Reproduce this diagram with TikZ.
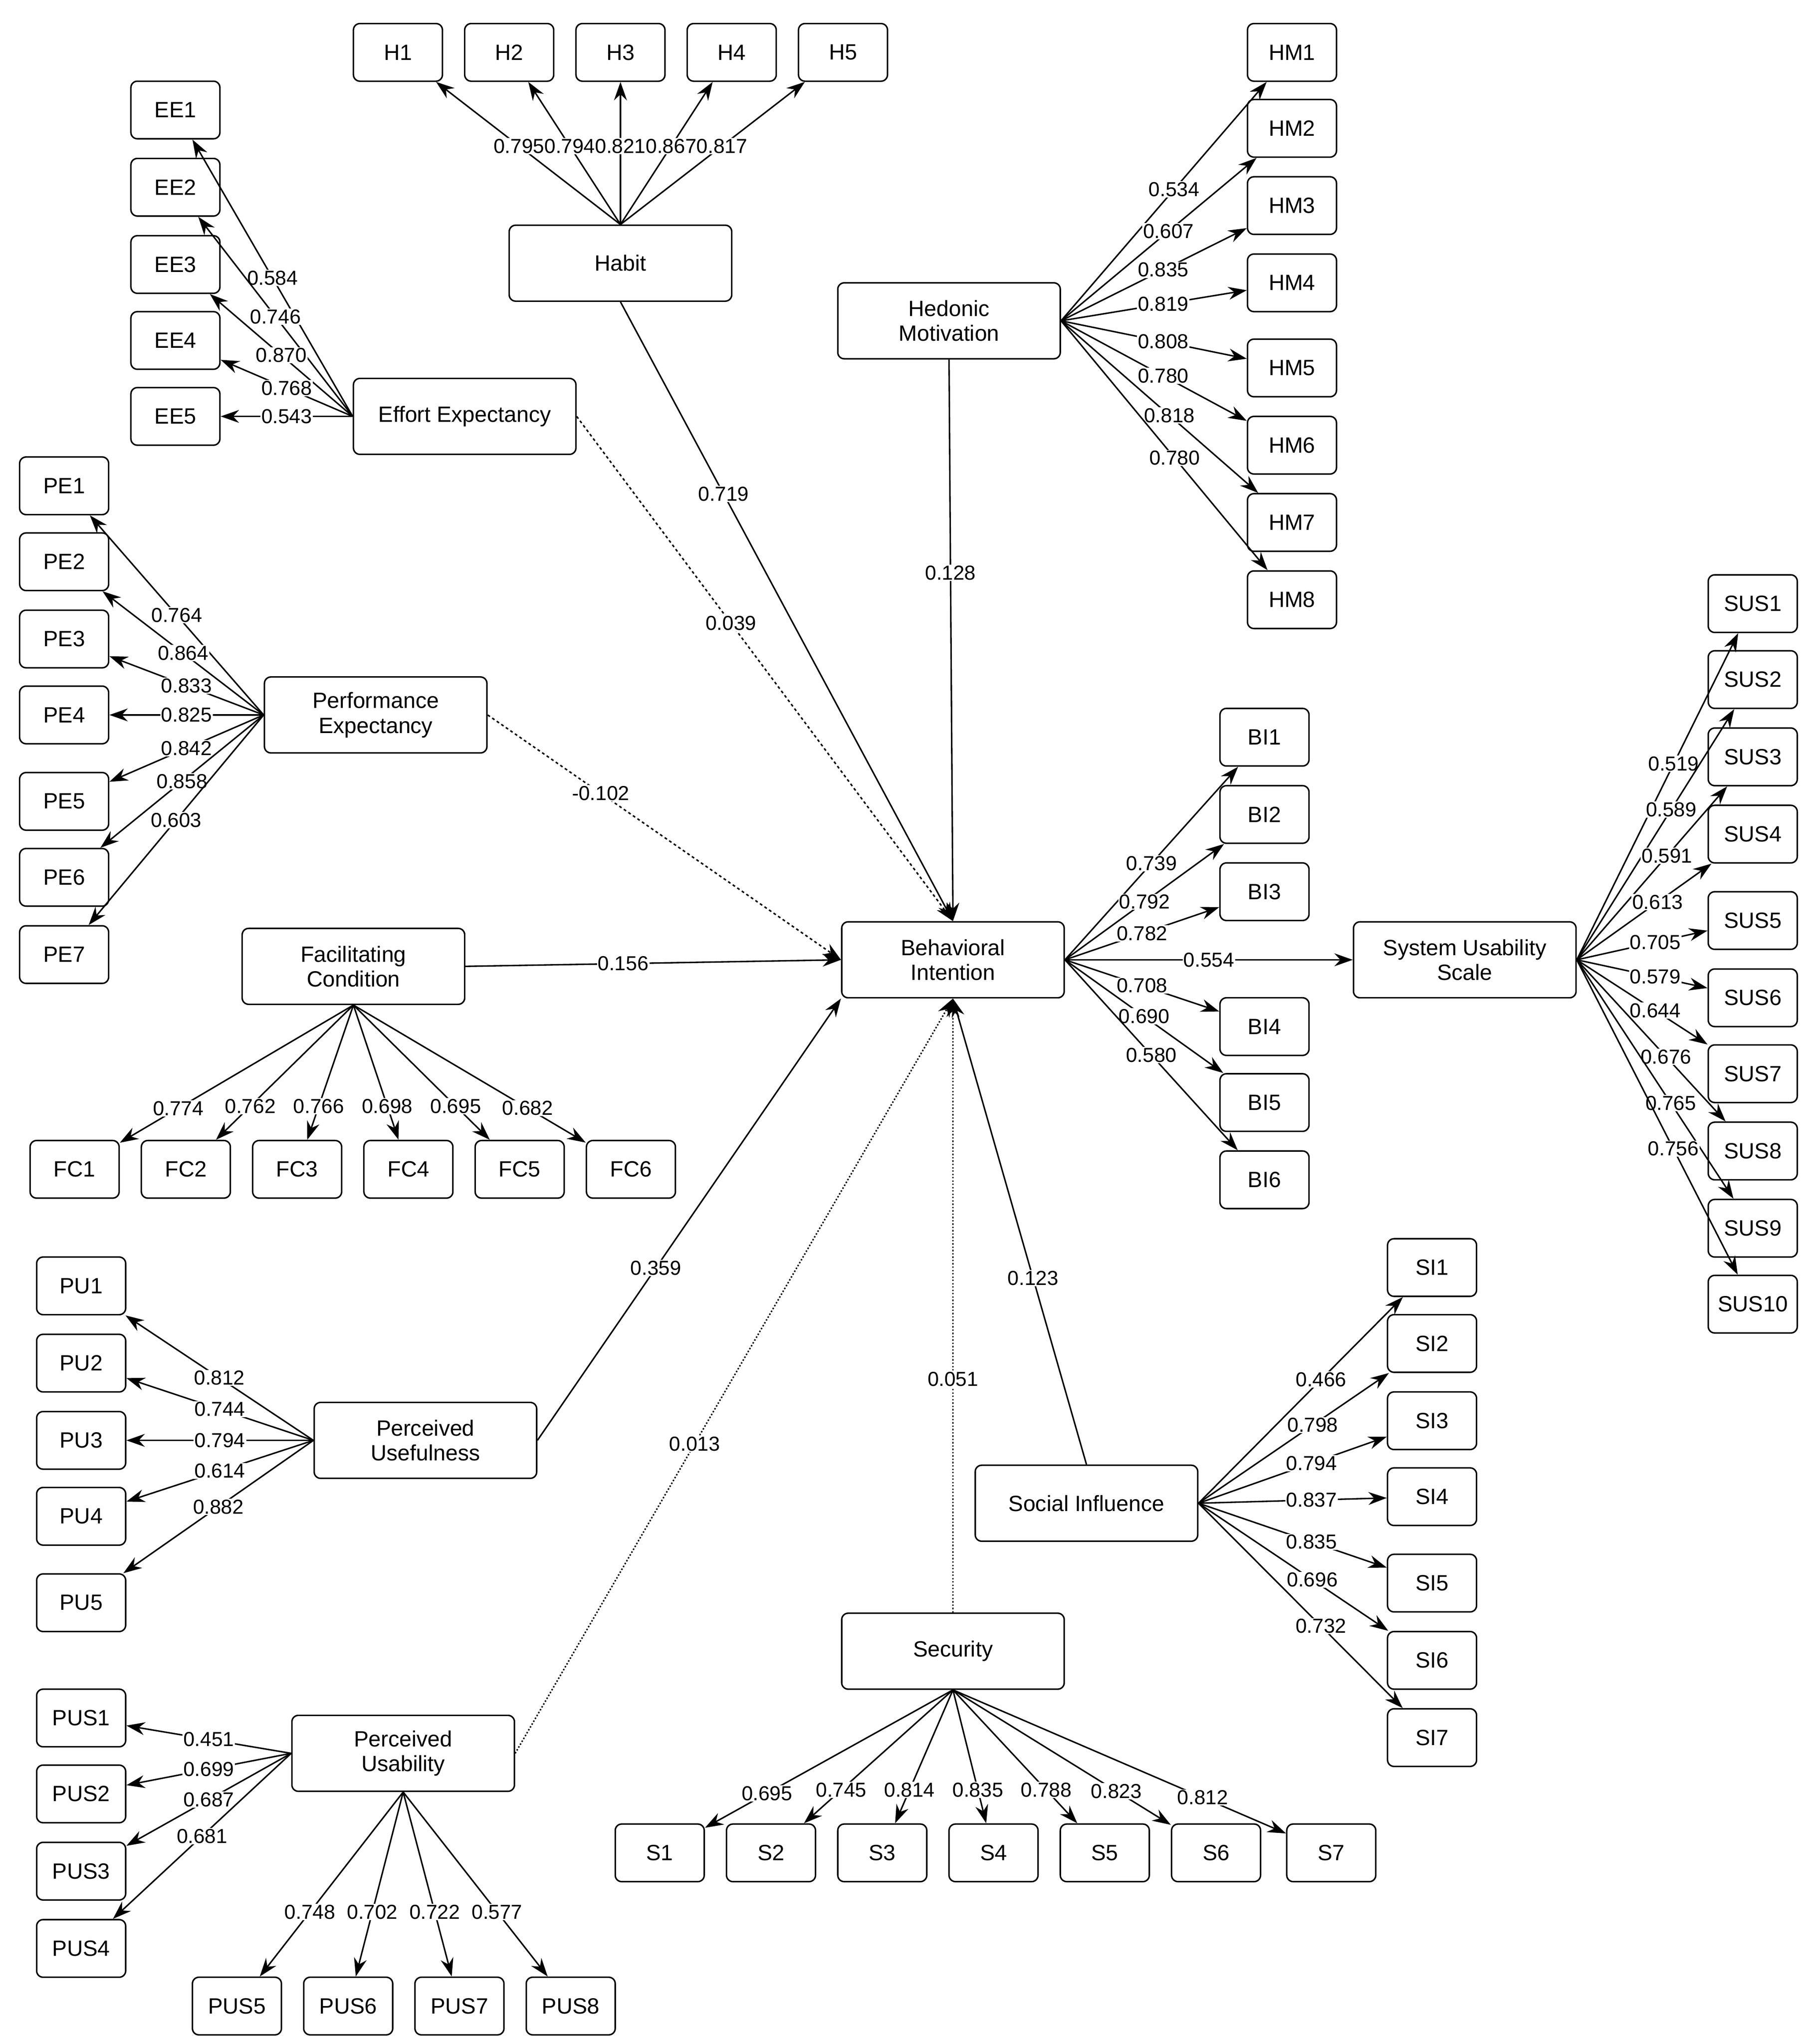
\documentclass[tikz,border=0pt]{standalone}
\usepackage{fontspec}
\setmainfont{Liberation Sans}
\usetikzlibrary{arrows.meta}
\begin{document}
\begin{tikzpicture}[x=0.05cm,y=-0.05cm,
 box/.style={draw,line width=1.6pt,rounded corners=7pt,minimum width=3.4cm,minimum height=2.2cm,font=\fontsize{24}{26}\selectfont,inner sep=2pt},
 con/.style={draw,line width=1.6pt,rounded corners=7pt,minimum width=8.5cm,minimum height=2.9cm,align=center,font=\fontsize{24}{27}\selectfont},
 ind/.style={line width=1.6pt,-{Stealth[length=20pt,width=14pt]}},
 lab/.style={fill=white,inner sep=1pt,font=\fontsize{22}{24}\selectfont}]
\useasboundingbox (0,0) rectangle (1384,1561);
% constructs
\node[con] (Habit) at (474,201) {Habit};
\node[con] (EE) at (355,318) {Effort Expectancy};
\node[con] (PE) at (287,546) {Performance\\Expectancy};
\node[con] (FC) at (270,738) {Facilitating\\Condition};
\node[con] (PU) at (325,1100) {Perceived\\Usefulness};
\node[con] (PUS) at (308,1339) {Perceived\\Usability};
\node[con] (HM) at (725,245) {Hedonic\\Motivation};
\node[con] (BI) at (728,733) {Behavioral\\Intention};
\node[con] (SUS) at (1119,733) {System Usability\\Scale};
\node[con] (SI) at (830,1148) {Social Influence};
\node[con] (SEC) at (728,1261) {Security};
% indicators
\foreach \i/\x in {1/304,2/389,3/474,4/559,5/644} \node[box] (H\i) at (\x,40) {H\i};
\foreach \i/\y in {1/84,2/143,3/202,4/260,5/318} \node[box] (EE\i) at (134,\y) {EE\i};
\foreach \i/\y in {1/371,2/429,3/488,4/546,5/612,6/670,7/729} \node[box] (PE\i) at (49,\y) {PE\i};
\foreach \i/\x in {1/57,2/142,3/227,4/312,5/397,6/482} \node[box] (FC\i) at (\x,893) {FC\i};
\foreach \i/\y in {1/982,2/1041,3/1100,4/1158,5/1224} \node[box] (PU\i) at (62,\y) {PU\i};
\foreach \i/\y in {1/1312,2/1370,3/1429,4/1488} \node[box] (PUS\i) at (62,\y) {PUS\i};
\foreach \i/\x in {5/181,6/266,7/351,8/436} \node[box] (PUS\i) at (\x,1532) {PUS\i};
\foreach \i/\y in {1/40,2/98,3/157,4/216,5/281,6/340,7/399,8/458} \node[box] (HM\i) at (987,\y) {HM\i};
\foreach \i/\y in {1/563,2/622,3/681,4/784,5/842,6/901} \node[box] (BI\i) at (966,\y) {BI\i};
\foreach \i/\y in {1/461,2/519,3/578,4/637,5/703,6/762,7/820,8/879,9/938,10/996} \node[box] (SUS\i) at (1339,\y) {SUS\i};
\foreach \i/\y in {1/968,2/1026,3/1085,4/1143,5/1209,6/1268,7/1327} \node[box] (SI\i) at (1094,\y) {SI\i};
\foreach \i/\x in {1/504,2/589,3/674,4/759,5/844,6/929,7/1017} \node[box] (S\i) at (\x,1415) {S\i};
% loadings
\foreach \i/\v in {1/0.795,2/0.794,3/0.821,4/0.867,5/0.817} \draw[ind] (Habit.north) -- node[lab,pos=0.55]{\v} (H\i);
\foreach \i/\v in {1/0.584,2/0.746,3/0.870,4/0.768,5/0.543} \draw[ind] (EE.west) -- node[lab]{\v} (EE\i);
\foreach \i/\v in {1/0.764,2/0.864,3/0.833,4/0.825,5/0.842,6/0.858,7/0.603} \draw[ind] (PE.west) -- node[lab]{\v} (PE\i);
\foreach \i/\v in {1/0.774,2/0.762,3/0.766,4/0.698,5/0.695,6/0.682} \draw[ind] (FC.south) -- node[lab,pos=0.75]{\v} (FC\i);
\foreach \i/\v in {1/0.812,2/0.744,3/0.794,4/0.614,5/0.882} \draw[ind] (PU.west) -- node[lab]{\v} (PU\i);
\foreach \i/\v in {1/0.451,2/0.699,3/0.687,4/0.681} \draw[ind] (PUS.west) -- node[lab]{\v} (PUS\i);
\foreach \i/\v in {5/0.748,6/0.702,7/0.722,8/0.577} \draw[ind] (PUS.south) -- node[lab,pos=0.65]{\v} (PUS\i);
\foreach \i/\v in {1/0.534,2/0.607,3/0.835,4/0.819,5/0.808,6/0.780,7/0.818,8/0.780} \draw[ind] (HM.east) -- node[lab,pos=0.55]{\v} (HM\i);
\foreach \i/\v in {1/0.739,2/0.792,3/0.782,4/0.708,5/0.690,6/0.580} \draw[ind] (BI.east) -- node[lab]{\v} (BI\i);
\foreach \i/\v in {1/0.519,2/0.589,3/0.591,4/0.613,5/0.705,6/0.579,7/0.644,8/0.676,9/0.765,10/0.756} \draw[ind] (SUS.east) -- node[lab,pos=0.6]{\v} (SUS\i);
\foreach \i/\v in {1/0.466,2/0.798,3/0.794,4/0.837,5/0.835,6/0.696,7/0.732} \draw[ind] (SI.east) -- node[lab,pos=0.6]{\v} (SI\i);
\foreach \i/\v in {1/0.695,2/0.745,3/0.814,4/0.835,5/0.788,6/0.823,7/0.812} \draw[ind] (SEC.south) -- node[lab,pos=0.75]{\v} (S\i);
% structural
\draw[ind] (Habit.south) -- node[lab,pos=0.31]{0.719} (BI.north);
\draw[ind] (HM.south) -- node[lab,pos=0.38]{0.128} (BI.north);
\draw[ind,dashed] (EE.east) -- node[lab,pos=0.41]{0.039} (BI.north);
\draw[ind,dashed] (PE.east) -- node[lab,pos=0.32]{-0.102} (BI.west);
\draw[ind] (FC.east) -- node[lab,pos=0.42]{0.156} (BI.west);
\draw[ind] (PU.east) -- node[lab,pos=0.39]{0.359} (BI.south west);
\draw[ind,dotted] (PUS.east) -- node[lab,pos=0.41]{0.013} (BI.south);
\draw[ind,dotted] (SEC.north) -- node[lab,pos=0.38]{0.051} (BI.south);
\draw[ind] (SI.north) -- node[lab,pos=0.40]{0.123} (BI.south);
\draw[ind] (BI.east) -- node[lab]{0.554} (SUS.west);
\end{tikzpicture}
\end{document}
